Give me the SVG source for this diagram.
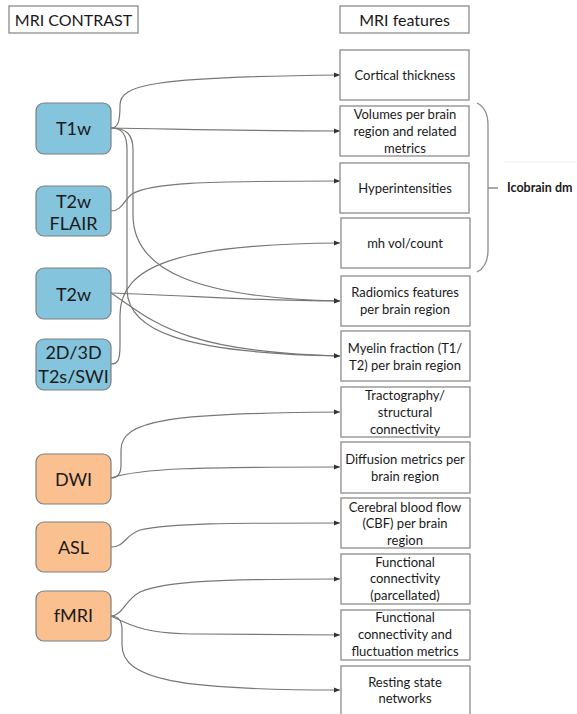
<svg xmlns="http://www.w3.org/2000/svg" width="577" height="714" viewBox="0 0 577 714">
<style>
  .hdr{fill:#fff;stroke:#8c8c8c;stroke-width:1.3}
  .src-b{fill:#84C4DC;stroke:#7f7f7f;stroke-width:1.2}
  .src-o{fill:#FAC08F;stroke:#7f7f7f;stroke-width:1.2}
  .feat{fill:#fff;stroke:#8c8c8c;stroke-width:1.3}
  text{font-family:Lato,"Liberation Sans",sans-serif;fill:#1a1a1a;text-anchor:middle}
  .ht{font-size:16px}
  .st{font-size:18px}
  .ft{font-size:13px}
  .lbl{font-size:12.5px;font-weight:bold;text-anchor:start}
  .c{fill:none;stroke:#777;stroke-width:1.2;marker-end:url(#ah)}
  .br{fill:none;stroke:#8c8c8c;stroke-width:1.3}
</style>
<defs>
  <marker id="ah" markerUnits="userSpaceOnUse" markerWidth="6" markerHeight="6" refX="6" refY="3" orient="auto">
    <path d="M0,0.5 L6,3 L0,5.5 z" fill="#333"/>
  </marker>
</defs>
<rect width="577" height="714" fill="#fff"/>

<g id="header-contrast"><rect class="hdr" x="9" y="6" width="129" height="27"/><text class="ht" x="73.5" y="26">MRI CONTRAST</text></g>
<g id="header-features"><rect class="hdr" x="340" y="6" width="129" height="27"/><text class="ht" x="404.5" y="26">MRI features</text></g>

<g id="connectors">
  <path class="c" d="M111,128 C118,128 120,122 120,105 C120,85 150,77 340,75"/>
  <path class="c" d="M111,128 C180,129 250,131 340,131"/>
  <path class="c" d="M111,128 C126,128 133,134 133,150 L133,215 C133,272 200,298 340,301"/>
  <path class="c" d="M111,128 C122,128 127,134 127,150 L127,290 C128,330 180,353 340,356"/>
  <path class="c" d="M111,211 C122,211 124,200 132,194 C150,183 200,181 340,181"/>
  <path class="c" d="M111,293 C200,296 250,301 340,301"/>
  <path class="c" d="M111,293 C150,318 175,352 340,356"/>
  <path class="c" d="M111,364 C118,364 120,360 120,345 L120,315 C120,265 180,244 340,243"/>
  <path class="c" d="M111,478 C118,478 121,474 121,465 L121,450 C121,420 170,413 340,412"/>
  <path class="c" d="M111,478 C140,468 200,467 340,467"/>
  <path class="c" d="M111,547 C125,547 125,535 140,530 C170,523 230,523 340,523"/>
  <path class="c" d="M111,616 C122,616 125,600 140,592 C165,581 220,579 340,579"/>
  <path class="c" d="M111,616 C135,628 150,634 200,634 L340,635"/>
  <path class="c" d="M111,616 C118,616 122,620 122,630 L122,645 C122,680 180,690 340,690"/>
</g>

<g id="T1w"><rect class="src-b" x="36" y="103" width="75" height="51" rx="8"/><text class="st" x="73.5" y="135">T1w</text></g>
<g id="T2w-FLAIR"><rect class="src-b" x="36" y="186" width="75" height="50" rx="8"/><text class="st" x="73.5" y="208">T2w</text><text class="st" x="73.5" y="230">FLAIR</text></g>
<g id="T2w"><rect class="src-b" x="36" y="268" width="75" height="51" rx="8"/><text class="st" x="73.5" y="301">T2w</text></g>
<g id="T2s-SWI"><rect class="src-b" x="36" y="339" width="75" height="51" rx="8"/><text class="st" x="73.5" y="359">2D/3D</text><text class="st" x="73.5" y="383">T2s/SWI</text></g>
<g id="DWI"><rect class="src-o" x="36" y="454" width="75" height="50" rx="8"/><text class="st" x="73.5" y="486">DWI</text></g>
<g id="ASL"><rect class="src-o" x="36" y="522" width="75" height="50" rx="8"/><text class="st" x="73.5" y="554">ASL</text></g>
<g id="fMRI"><rect class="src-o" x="36" y="591" width="75" height="50" rx="8"/><text class="st" x="73.5" y="622">fMRI</text></g>

<g id="f-cortical"><rect class="feat" x="340" y="50" width="129" height="50"/><text class="ft" x="405" y="80">Cortical thickness</text></g>
<g id="f-volumes"><rect class="feat" x="340" y="106" width="129" height="50"/><text class="ft" x="405" y="119">Volumes per brain</text><text class="ft" x="405" y="136">region and related</text><text class="ft" x="405" y="153">metrics</text></g>
<g id="f-hyper"><rect class="feat" x="340" y="163" width="129" height="50"/><text class="ft" x="405" y="193">Hyperintensities</text></g>
<g id="f-mh"><rect class="feat" x="341" y="218" width="129" height="50"/><text class="ft" x="405" y="248">mh vol/count</text></g>
<g id="f-radiomics"><rect class="feat" x="341" y="276" width="129" height="50"/><text class="ft" x="405" y="297">Radiomics features</text><text class="ft" x="405" y="314">per brain region</text></g>
<g id="f-myelin"><rect class="feat" x="341" y="331" width="129" height="50"/><text class="ft" x="405" y="353">Myelin fraction (T1/</text><text class="ft" x="405" y="370">T2) per brain region</text></g>
<g id="f-tract"><rect class="feat" x="341" y="387" width="129" height="50"/><text class="ft" x="405" y="400">Tractography/</text><text class="ft" x="405" y="417">structural</text><text class="ft" x="405" y="434">connectivity</text></g>
<g id="f-diffusion"><rect class="feat" x="341" y="442" width="129" height="51"/><text class="ft" x="405" y="464">Diffusion metrics per</text><text class="ft" x="405" y="481">brain region</text></g>
<g id="f-cbf"><rect class="feat" x="341" y="498" width="129" height="50"/><text class="ft" x="405" y="512">Cerebral blood flow</text><text class="ft" x="405" y="528">(CBF) per brain</text><text class="ft" x="405" y="545">region</text></g>
<g id="f-fc-parc"><rect class="feat" x="341" y="554" width="129" height="50"/><text class="ft" x="405" y="567">Functional</text><text class="ft" x="405" y="583">connectivity</text><text class="ft" x="405" y="600">(parcellated)</text></g>
<g id="f-fc-fluct"><rect class="feat" x="341" y="610" width="129" height="50"/><text class="ft" x="405" y="622">Functional</text><text class="ft" x="405" y="639">connectivity and</text><text class="ft" x="405" y="656">fluctuation metrics</text></g>
<g id="f-rsn"><rect class="feat" x="341" y="666" width="129" height="52"/><text class="ft" x="405" y="687">Resting state</text><text class="ft" x="405" y="703">networks</text></g>

<g id="icobrain">
  <path class="br" d="M477,103 C485,107 488,114 488,125 L488,250 C488,261 485,268 477,272 M488,188 L498,188"/>
  <line x1="505" y1="162" x2="577" y2="162" stroke="#eeeeee" stroke-width="1"/>
  <text class="lbl" x="507" y="192">Icobrain dm</text>
</g>
</svg>
